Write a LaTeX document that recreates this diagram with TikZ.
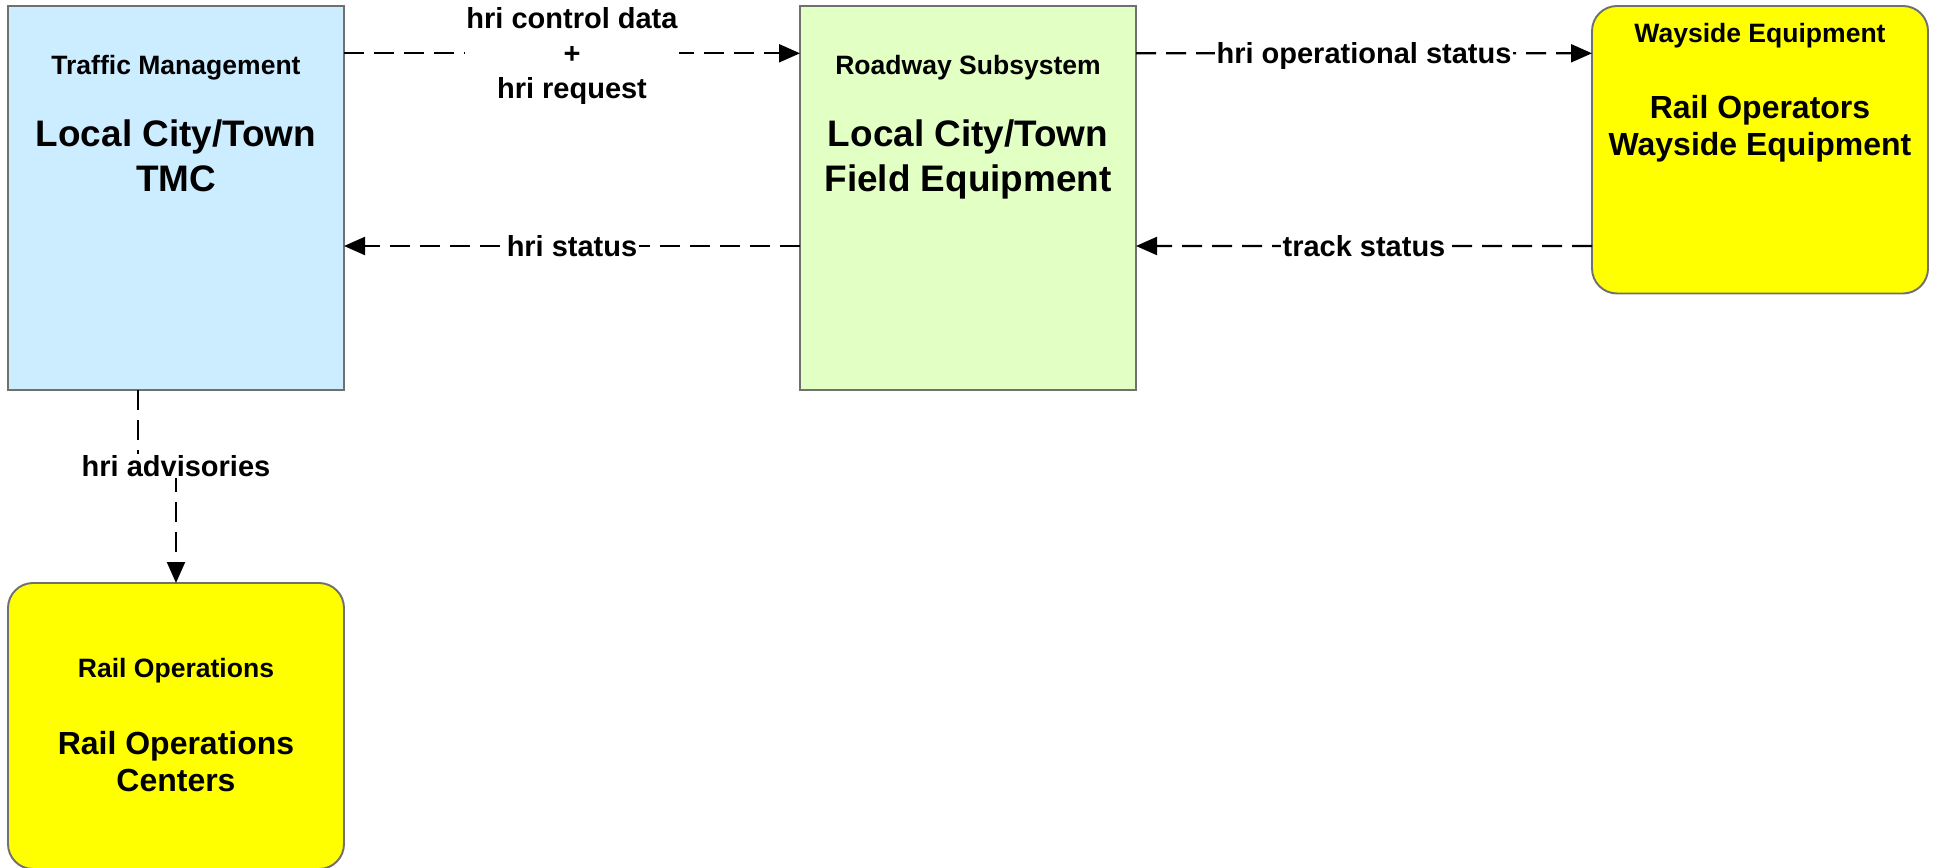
\documentclass[tikz,border=0pt]{standalone}
\usepackage{fontspec}
\setmainfont{Liberation Sans}
\usetikzlibrary{arrows.meta}
\definecolor{tmcblue}{RGB}{204,236,255}
\definecolor{fieldgreen}{RGB}{226,255,196}
\definecolor{railyellow}{RGB}{255,255,0}
\definecolor{edgegray}{RGB}{112,112,112}

\begin{document}
\begin{tikzpicture}[
		box/.style={draw=edgegray, line width=1.1pt, inner sep=0pt, outer sep=0pt, minimum width=6.72cm},
		boxtitle/.style={font=\fontsize{15.1pt}{18pt}\selectfont\bfseries},
		bigname/.style={font=\fontsize{21pt}{25.6pt}\selectfont\bfseries, align=center},
		railname/.style={font=\fontsize{18.2pt}{21pt}\selectfont\bfseries, align=center},
		flow/.style={line width=1.2pt, dash pattern=on 0.4cm off 0.2cm, -{Triangle[length=0.42cm,width=0.36cm]}},
		flowlabel/.style={fill=white, inner sep=1pt, font=\fontsize{16.5pt}{19.9pt}\selectfont\bfseries, align=center}
	]
			%%%%% START %%%%%
			
			\useasboundingbox (0, 0) rectangle (38.74, -17.36);
			
			\node[box, fill=tmcblue, minimum height=7.68cm] (tmc) at (3.52, -3.96) {};
			\node[boxtitle] (tmctitle) at ([yshift=-1.23cm]tmc.north) {Traffic Management};
			\node[bigname] (tmcname) at ([yshift=-3.0cm]tmc.north) {Local City/Town\\TMC};
			
			\node[box, fill=fieldgreen, minimum height=7.68cm] (field) at (19.36, -3.96) {};
			\node[boxtitle] (fieldtitle) at ([yshift=-1.23cm]field.north) {Roadway Subsystem};
			\node[bigname] (fieldname) at ([yshift=-3.07cm]field.north) {Local City/Town\\Field Equipment};
			
			\node[box, fill=railyellow, rounded corners=0.5cm, minimum height=5.75cm] (wayside) at (35.2, -2.995) {};
			\node[boxtitle] (waysidetitle) at ([yshift=-0.59cm]wayside.north) {Wayside Equipment};
			\node[railname] (waysidename) at ([yshift=-2.455cm]wayside.north) {Rail Operators\\Wayside Equipment};
			
			\node[box, fill=railyellow, rounded corners=0.5cm, minimum height=5.72cm] (railops) at (3.52, -14.52) {};
			\node[boxtitle] (railopstitle) at ([yshift=-1.75cm]railops.north) {Rail Operations};
			\node[railname] (railopsname) at ([yshift=-3.58cm]railops.north) {Rail Operations\\Centers};
			
			\draw[flow] ([yshift=-0.946cm]tmc.north east) -- node[flowlabel, yshift=-0.05cm] {hri control data\\+\\hri request} ([yshift=-0.946cm]field.north west);
			\draw[flow] ([yshift=-4.8cm]field.north west) -- node[flowlabel] {hri status} ([yshift=-4.8cm]tmc.north east);
			
			\draw[flow] ([yshift=-0.946cm]field.north east) -- node[flowlabel, yshift=-0.06cm] {hri operational status} ([yshift=-0.946cm]wayside.north west);
			\draw[flow] ([yshift=-4.8cm]wayside.north west) -- node[flowlabel] {track status} ([yshift=-4.8cm]field.north east);
			
			\draw[flow] ([xshift=-0.76cm]tmc.south) -- ++(0, -1.52) -| node[flowlabel, pos=0.5] {hri advisories} (railops.north);
			
			%%%%% END %%%%%
		\end{tikzpicture}
\end{document}
